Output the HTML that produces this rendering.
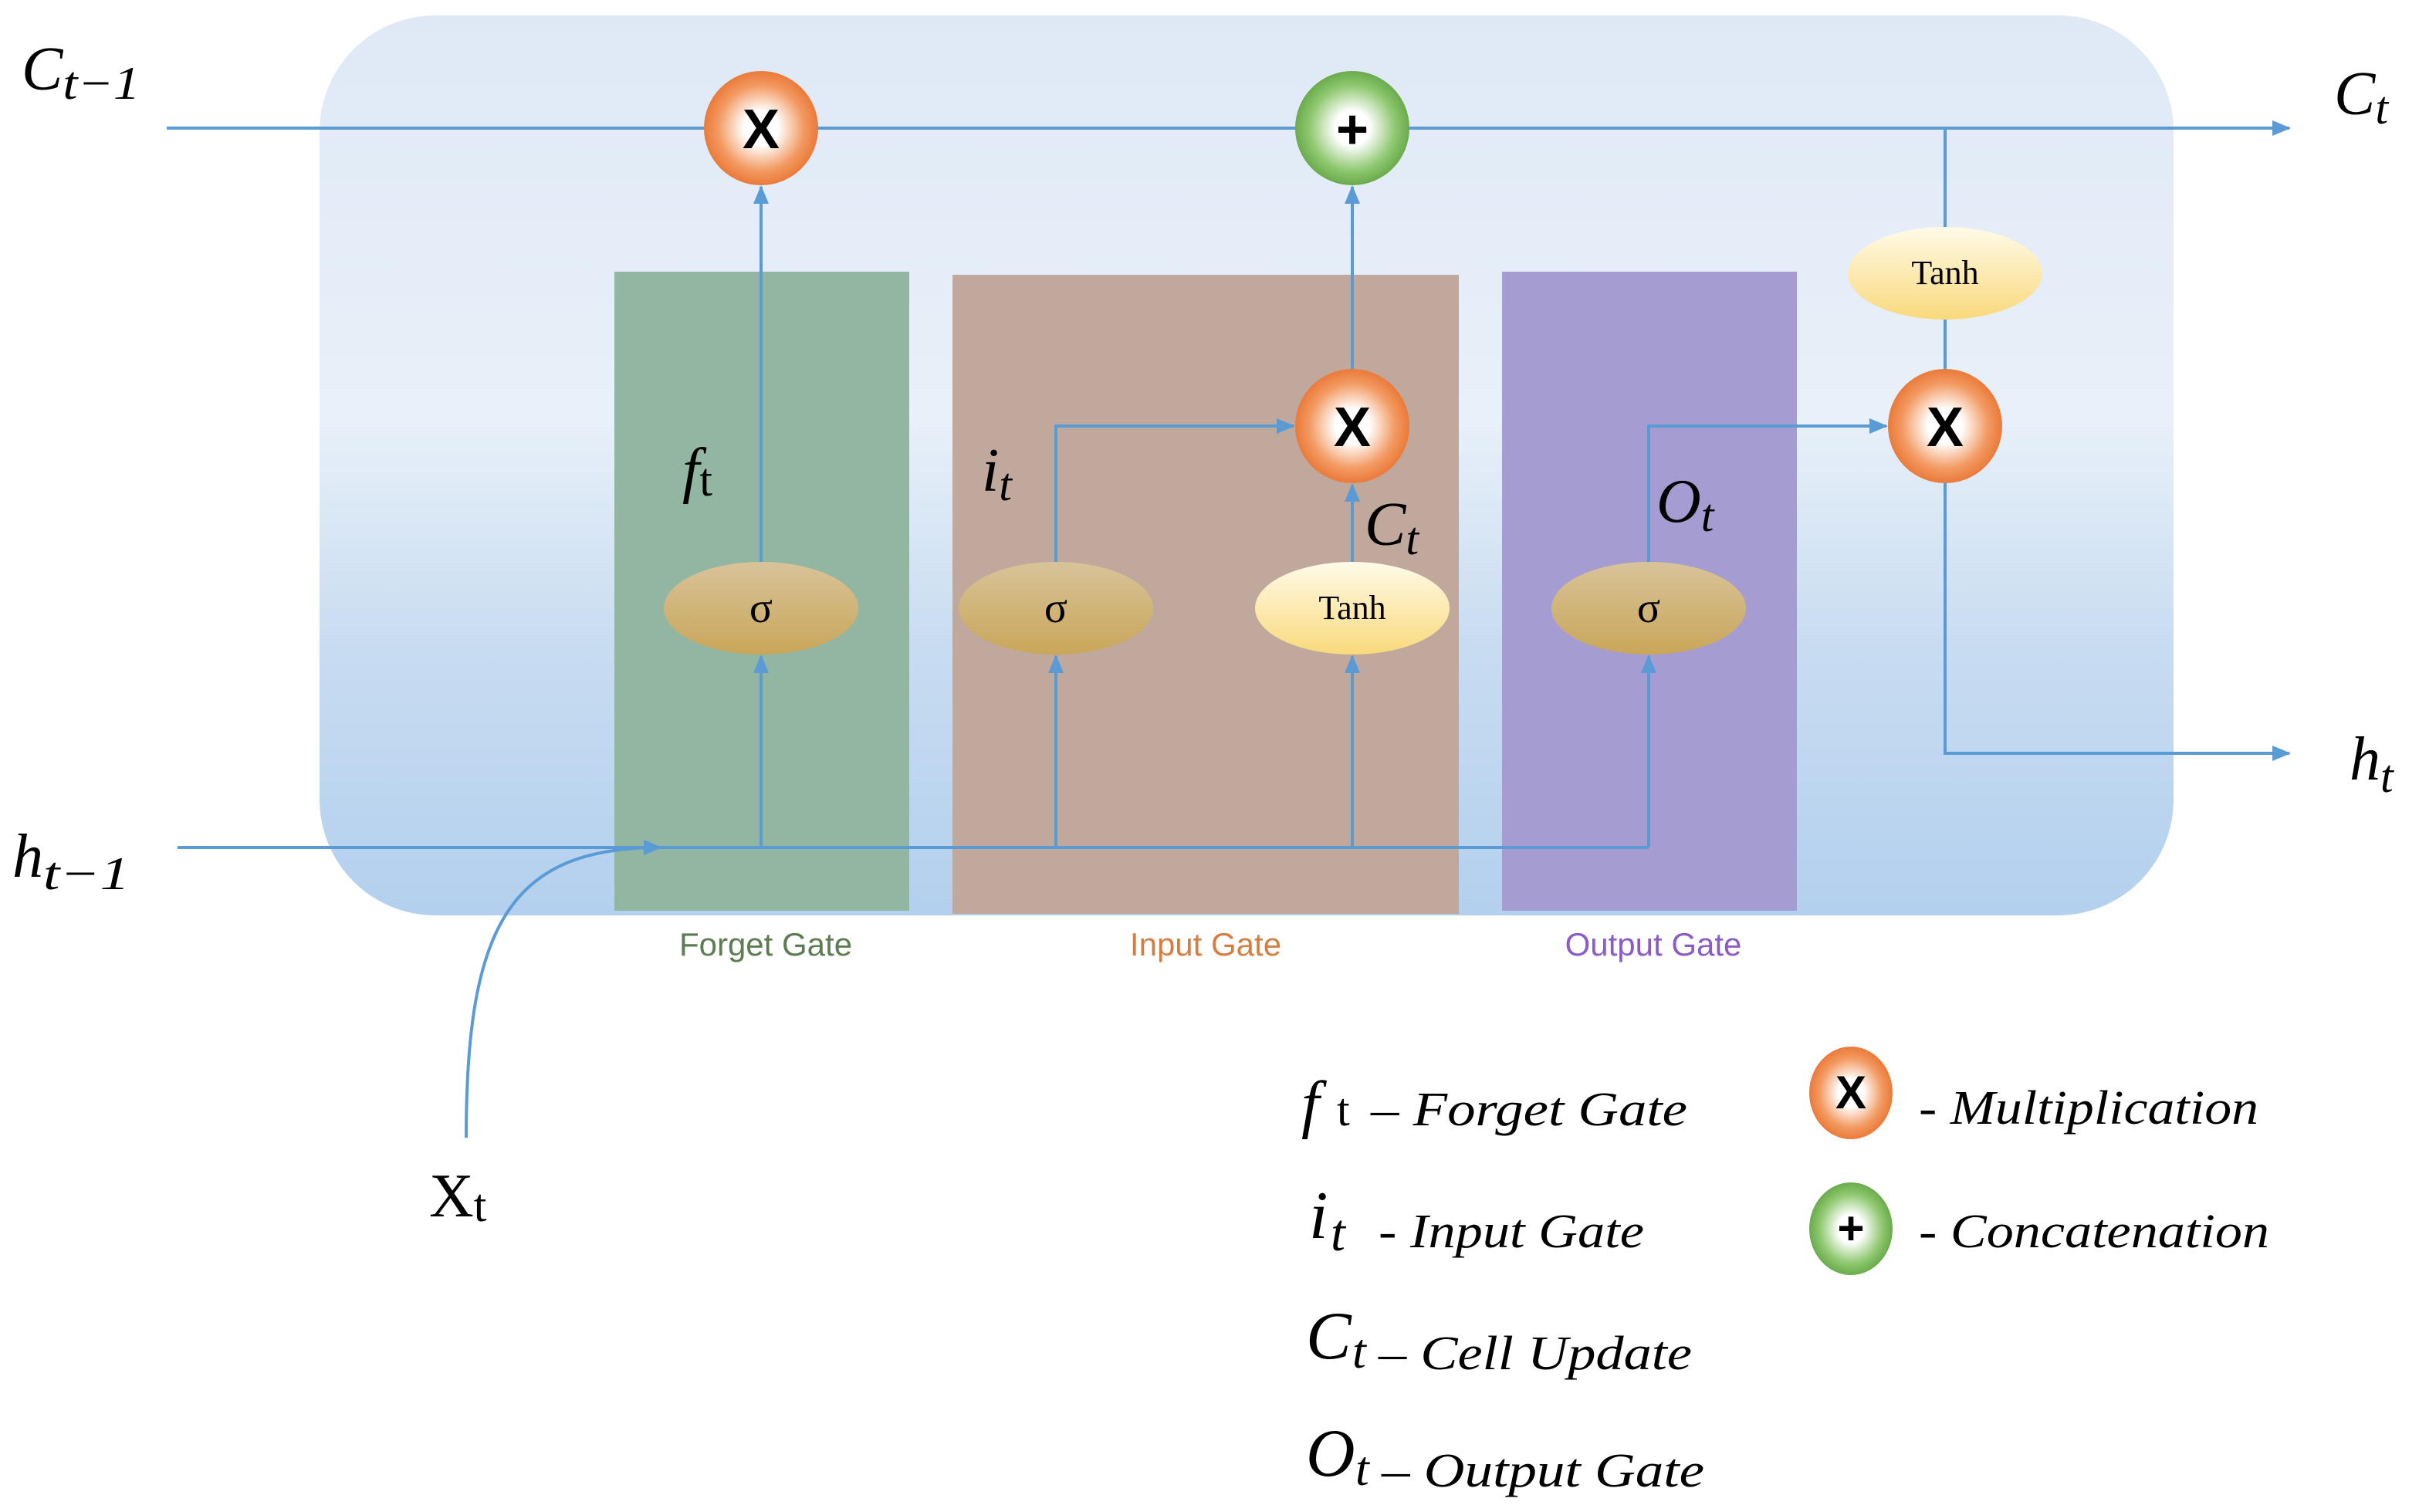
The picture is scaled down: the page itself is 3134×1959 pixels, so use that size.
<!DOCTYPE html>
<html><head><meta charset="utf-8"><style>html,body{margin:0;padding:0;background:#fff}svg{display:block}</style></head><body>
<svg width="3134" height="1959" viewBox="0 0 1567 979.5" xmlns="http://www.w3.org/2000/svg" font-family="Liberation Serif, serif">
<defs>
<linearGradient id="bg" x1="0" y1="0" x2="0" y2="1">
<stop offset="0" stop-color="#dfe9f6"/><stop offset="0.45" stop-color="#e8f0f9"/><stop offset="0.7" stop-color="#c8dcf1"/><stop offset="1" stop-color="#b3d0ee"/></linearGradient>
<radialGradient id="org"><stop offset="0.3" stop-color="#fff"/><stop offset="0.75" stop-color="#f39a62"/><stop offset="1" stop-color="#ea7a3a"/></radialGradient>
<radialGradient id="grn"><stop offset="0.3" stop-color="#fff"/><stop offset="0.75" stop-color="#8fc870"/><stop offset="1" stop-color="#6aab4c"/></radialGradient>
<linearGradient id="sig" x1="0" y1="0" x2="0" y2="1"><stop offset="0" stop-color="#d8c39a"/><stop offset="1" stop-color="#c9a659"/></linearGradient>
<linearGradient id="tan" x1="0" y1="0" x2="0" y2="1"><stop offset="0" stop-color="#fffbe8"/><stop offset="1" stop-color="#f9d97c"/></linearGradient>
<marker id="ar" markerWidth="12" markerHeight="10" refX="11" refY="5" orient="auto" markerUnits="userSpaceOnUse"><path d="M0,0 L12,5 L0,10 z" fill="#5b9bd5"/></marker>
</defs>
<rect x="207" y="10" width="1201" height="583" rx="75" fill="url(#bg)"/>
<rect x="398" y="176" width="191" height="414" fill="#93b6a2"/>
<rect x="617" y="178" width="328" height="414" fill="#c0a99c"/>
<rect x="973" y="176" width="191" height="414" fill="#a59cd2"/>
<g stroke="#5b9bd5" stroke-width="2" fill="none">
<line x1="108" y1="83" x2="1483" y2="83" marker-end="url(#ar)"/>
<line x1="115" y1="549" x2="1068" y2="549"/>
<path d="M302,737 C302,600 330,549 428,549" marker-end="url(#ar)"/>
<line x1="493" y1="549" x2="493" y2="425" marker-end="url(#ar)"/>
<line x1="684" y1="549" x2="684" y2="425" marker-end="url(#ar)"/>
<line x1="876" y1="549" x2="876" y2="425" marker-end="url(#ar)"/>
<line x1="1068" y1="549" x2="1068" y2="425" marker-end="url(#ar)"/>
<line x1="493" y1="364" x2="493" y2="121" marker-end="url(#ar)"/>
<line x1="876" y1="364" x2="876" y2="314" marker-end="url(#ar)"/>
<line x1="876" y1="239" x2="876" y2="121" marker-end="url(#ar)"/>
<path d="M684,364 V276 H838" marker-end="url(#ar)"/>
<path d="M1068,364 V276 H1222" marker-end="url(#ar)"/>
<line x1="1260" y1="83" x2="1260" y2="147"/>
<line x1="1260" y1="207" x2="1260" y2="239"/>
<path d="M1260,313 V488 H1483" marker-end="url(#ar)"/>
</g>
<g font-family="Liberation Sans, sans-serif" font-weight="bold" text-anchor="middle">
<circle cx="493" cy="83" r="37" fill="url(#org)"/><text x="493" y="96" font-size="36">X</text>
<circle cx="876" cy="83" r="37" fill="url(#grn)"/><text x="876" y="96" font-size="36">+</text>
<circle cx="876" cy="276" r="37" fill="url(#org)"/><text x="876" y="289" font-size="36">X</text>
<circle cx="1260" cy="276" r="37" fill="url(#org)"/><text x="1260" y="289" font-size="36">X</text>
</g>
<g text-anchor="middle" font-size="22">
<ellipse cx="493" cy="394" rx="63" ry="30" fill="url(#sig)"/><text x="493" y="403" font-size="28">σ</text>
<ellipse cx="684" cy="394" rx="63" ry="30" fill="url(#sig)"/><text x="684" y="403" font-size="28">σ</text>
<ellipse cx="876" cy="394" rx="63" ry="30" fill="url(#tan)"/><text x="876" y="401">Tanh</text>
<ellipse cx="1068" cy="394" rx="63" ry="30" fill="url(#sig)"/><text x="1068" y="403" font-size="28">σ</text>
<ellipse cx="1260" cy="177" rx="63" ry="30" fill="url(#tan)"/><text x="1260" y="184">Tanh</text>
</g>
<g font-size="40" font-style="italic">
<text x="14" y="58">C<tspan font-size="30" dy="6" textLength="50" lengthAdjust="spacingAndGlyphs">t−1</tspan></text>
<text x="1512" y="74">C<tspan font-size="30" dy="6">t</tspan></text>
<text x="8" y="568">h<tspan font-size="30" dy="8" textLength="56" lengthAdjust="spacingAndGlyphs">t−1</tspan></text>
<text x="1522" y="505">h<tspan font-size="30" dy="8">t</tspan></text>
<text x="442" y="318">f<tspan font-style="normal" font-size="30" dy="3">t</tspan></text>
<text x="636" y="318">i<tspan font-size="30" dy="6">t</tspan></text>
<text x="884" y="353">C<tspan font-size="30" dy="6">t</tspan></text>
<text x="1073" y="338">O<tspan font-size="30" dy="6">t</tspan></text>
<text x="278" y="788" font-style="normal">X<tspan font-size="30" dy="3">t</tspan></text>
</g>
<g font-family="Liberation Sans, sans-serif" font-size="21" text-anchor="middle">
<text x="496" y="619" fill="#5c7c52">Forget Gate</text>
<text x="781" y="619" fill="#d47e42">Input Gate</text>
<text x="1071" y="619" fill="#8a5cc4">Output Gate</text>
</g>
<g font-style="italic">
<text x="843" y="729" font-size="42">f</text><text x="866" y="729" font-size="30" font-style="normal">t</text>
<text x="888" y="729" font-size="31" textLength="205" lengthAdjust="spacingAndGlyphs">– Forget Gate</text>
<text x="848" y="802" font-size="44">i</text><text x="862" y="810" font-size="34">t</text>
<text x="893" y="808" font-size="31" textLength="172" lengthAdjust="spacingAndGlyphs">- Input Gate</text>
<text x="846" y="880" font-size="44">C</text><text x="876" y="886" font-size="32">t</text>
<text x="893" y="887" font-size="31" textLength="203" lengthAdjust="spacingAndGlyphs">– Cell Update</text>
<text x="846" y="956" font-size="44">O</text><text x="878" y="962" font-size="32">t</text>
<text x="895" y="963" font-size="31" textLength="209" lengthAdjust="spacingAndGlyphs">– Output Gate</text>
<text x="1243" y="728" font-size="31" textLength="220" lengthAdjust="spacingAndGlyphs">- Multiplication</text>
<text x="1243" y="808" font-size="31" textLength="227" lengthAdjust="spacingAndGlyphs">- Concatenation</text>
</g>
<g font-family="Liberation Sans, sans-serif" font-weight="bold" text-anchor="middle">
<ellipse cx="1199" cy="708" rx="27" ry="30" fill="url(#org)"/><text x="1199" y="718" font-size="30">X</text>
<ellipse cx="1199" cy="796" rx="27" ry="30" fill="url(#grn)"/><text x="1199" y="806" font-size="30">+</text>
</g>
</svg>
</body></html>
